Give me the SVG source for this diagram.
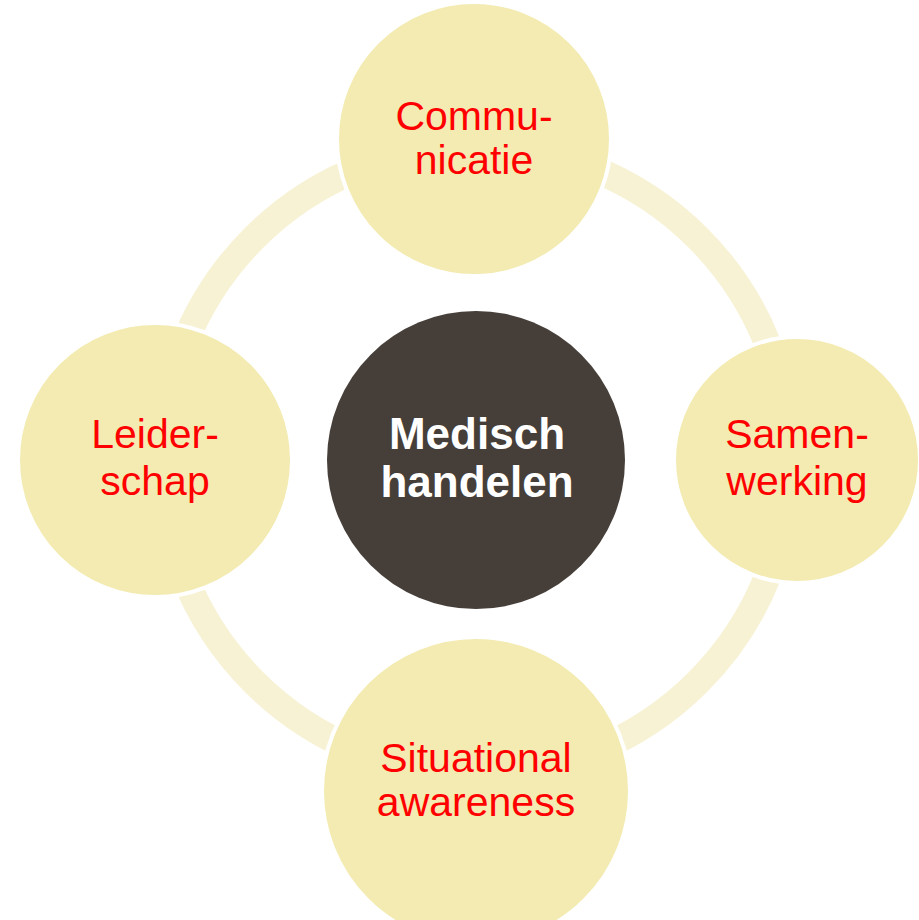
<svg xmlns="http://www.w3.org/2000/svg" width="919" height="920" viewBox="0 0 919 920">
<style>
.sat{fill:#F3EBB1;stroke:#FFFFFF;stroke-width:4}
.lbl{font-family:"Liberation Sans",Arial,sans-serif;font-size:41px;fill:#FF0000;text-anchor:middle}
.hub{font-family:"Liberation Sans",Arial,sans-serif;font-size:44px;font-weight:bold;fill:#FFFFFF;text-anchor:middle}
</style>
<rect width="919" height="920" fill="#FFFFFF"/>
<g id="connectors">
<circle cx="476" cy="460" r="314" fill="none" stroke="#F7F2D4" stroke-width="27"/>
</g>
<g id="center">
<circle cx="476" cy="460" r="149" fill="#463E38"/>
<text class="hub" x="477" y="449">Medisch</text>
<text class="hub" x="477" y="497">handelen</text>
</g>
<g id="top">
<circle class="sat" cx="474" cy="139" r="137"/>
<text class="lbl" x="474" y="130">Commu-</text>
<text class="lbl" x="474" y="174">nicatie</text>
</g>
<g id="left">
<circle class="sat" cx="155" cy="460" r="137"/>
<text class="lbl" x="155" y="448">Leider-</text>
<text class="lbl" x="155" y="495">schap</text>
</g>
<g id="right">
<circle class="sat" cx="797" cy="460" r="123"/>
<text class="lbl" x="797" y="448">Samen-</text>
<text class="lbl" x="797" y="495">werking</text>
</g>
<g id="bottom">
<circle class="sat" cx="476" cy="791" r="154"/>
<text class="lbl" x="476" y="772">Situational</text>
<text class="lbl" x="476" y="816">awareness</text>
</g>
</svg>
